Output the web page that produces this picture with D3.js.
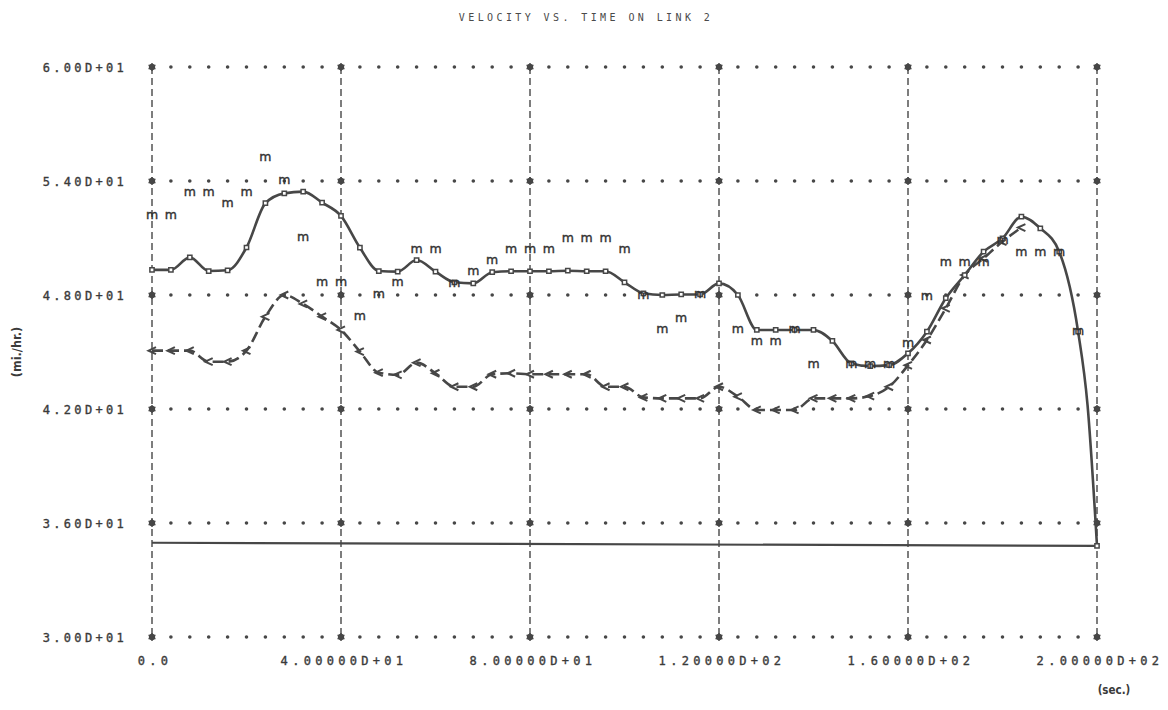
<!DOCTYPE html>
<html>
<head>
<meta charset="utf-8">
<script src="https://cdn.jsdelivr.net/npm/d3@7"></script>
<style>
  html, body { margin: 0; padding: 0; background: #fff; }
  svg { display: block; }
  text { font-family: "DejaVu Sans Mono", "Liberation Mono", monospace; fill: #3a3a3a; }
</style>
</head>
<body>
<svg id="chart" width="1168" height="710"></svg>
<script>
// Velocity on link 2 over a 200 s run
const chartTitle = "VELOCITY VS. TIME ON LINK 2";
const xTickValues = [0, 40, 80, 120, 160, 200];
const xTickLabels = ["0.0", "4.00000D+01", "8.00000D+01", "1.20000D+02", "1.60000D+02", "2.00000D+02"];
const yTickValues = [30, 36, 42, 48, 54, 60];
const yTickLabels = ["3.00D+01", "3.60D+01", "4.20D+01", "4.80D+01", "5.40D+01", "6.00D+01"];
const xAxisTitle = "(sec.)";
const yAxisTitle = "(mi./hr.)";

// Solid curve (model A)
const solidTime = [0, 4, 8, 12, 16, 20, 24, 28, 32, 36, 40, 44, 48, 52, 56, 60, 64, 68, 72, 76,
  80, 84, 88, 92, 96, 100, 104, 108, 112, 116, 120, 124, 128, 132, 136, 140, 144, 148, 152, 156,
  160, 164, 168, 172, 176, 180, 184, 188, 192, 196, 198, 200];
const solidSpeed = [49.32, 49.32, 49.98, 49.26, 49.3, 50.5, 52.83, 53.35, 53.44, 52.86, 52.16, 50.49,
  49.26, 49.23, 49.84, 49.23, 48.67, 48.61, 49.2, 49.25, 49.25, 49.25, 49.28, 49.25, 49.25, 48.67,
  48.09, 48.0, 48.03, 48.03, 48.61, 48.0, 46.16, 46.16, 46.16, 46.16, 45.58, 44.4, 44.26, 44.31,
  44.93, 46.07, 47.83, 49.05, 50.28, 50.98, 52.12, 51.51, 50.28, 46.07, 42.2, 34.8];

// Dashed curve (model B)
const dashedTime = [0, 4, 8, 12, 16, 20, 24, 28, 32, 36, 40, 44, 48, 52, 56, 60, 64, 68, 72, 76,
  80, 84, 88, 92, 96, 100, 104, 108, 112, 116, 120, 124, 128, 132, 136, 140, 144, 148, 152, 156,
  160, 164, 168, 172, 176, 180, 184];
const dashedSpeed = [45.07, 45.07, 45.07, 44.49, 44.49, 45.07, 46.86, 48.0, 47.53, 46.86, 46.16, 45.02,
  43.91, 43.8, 44.44, 43.88, 43.17, 43.17, 43.83, 43.88, 43.83, 43.83, 43.83, 43.83, 43.17, 43.17,
  42.61, 42.56, 42.56, 42.56, 43.17, 42.65, 41.95, 41.95, 41.95, 42.56, 42.56, 42.56, 42.68, 43.17,
  44.3, 45.63, 47.3, 49.05, 49.93, 50.81, 51.55];

// Measured speeds, printed as "m"
const measTime = [0, 4, 8, 12, 16, 20, 24, 28, 32, 36, 40, 44, 48, 52, 56, 60, 64, 68, 72, 76,
  80, 84, 88, 92, 96, 100, 104, 108, 112, 116, 124, 128, 132, 136, 140, 148, 152, 156,
  160, 164, 168, 172, 176, 180, 184, 188, 192, 196];
const measSpeed = [52.2, 52.2, 53.4, 53.4, 52.83, 53.4, 55.25, 54.02, 51.04, 48.65, 48.65, 46.86,
  48.04, 48.65, 50.37, 50.37, 48.61, 49.23, 49.81, 50.37, 50.37, 50.37, 50.95, 50.95, 50.95, 50.37,
  47.95, 46.2, 46.77, 48.0, 46.16, 45.54, 45.54, 46.2, 44.35, 44.35, 44.35, 44.35,
  45.46, 47.91, 49.7, 49.7, 49.7, 50.86, 50.25, 50.25, 50.25, 46.07];

// Closing base line drawn by the plotter
const baseTime = [0, 200];
const baseSpeed = [34.96, 34.8];

const ink = "#474747";
const svg = d3.select("#chart");

const x = d3.scaleLinear().domain([0, 200]).range([152, 1097]);
const y = d3.scaleLinear().domain([30, 60]).range([637, 67]);

// Title
svg.append("text")
  .attr("x", 586).attr("y", 21)
  .attr("text-anchor", "middle")
  .style("font-size", "10px")
  .style("letter-spacing", "3.4px")
  .style("fill", "#4a4a4a")
  .text(chartTitle);

// Vertical dashed grid lines (including both frame sides)
svg.append("g").selectAll("line")
  .data(xTickValues)
  .join("line")
  .attr("x1", d => x(d)).attr("x2", d => x(d))
  .attr("y1", y(60)).attr("y2", y(30))
  .attr("stroke", ink)
  .attr("stroke-width", 1.4)
  .attr("stroke-dasharray", "7 4");

// Horizontal dotted grid lines, one dot every 4 s
svg.append("g").selectAll("line")
  .data(yTickValues)
  .join("line")
  .attr("x1", x(0)).attr("x2", x(200) + 0.5)
  .attr("y1", d => y(d)).attr("y2", d => y(d))
  .attr("stroke", ink)
  .attr("stroke-width", 3.6)
  .attr("stroke-linecap", "round")
  .attr("stroke-dasharray", `0 ${x(4) - x(0)}`);

// Asterisks at grid intersections
const crossings = [];
xTickValues.forEach(tx => yTickValues.forEach(ty => crossings.push([tx, ty])));
const gStars = svg.append("g");
gStars.selectAll("circle")
  .data(crossings)
  .join("circle")
  .attr("cx", d => x(d[0])).attr("cy", d => y(d[1]))
  .attr("r", 3.2)
  .attr("fill", ink);
gStars.selectAll("path")
  .data(crossings)
  .join("path")
  .attr("transform", d => `translate(${x(d[0])},${y(d[1])})`)
  .attr("d", d3.symbol(d3.symbolAsterisk, 45))
  .attr("stroke", ink)
  .attr("stroke-width", 1.4)
  .attr("fill", "none");

// Tick labels
svg.append("g").selectAll("text")
  .data(yTickValues)
  .join("text")
  .attr("x", 127)
  .attr("y", d => y(d) + 4.5)
  .attr("text-anchor", "end")
  .style("font-size", "12px")
  .style("letter-spacing", "3.3px")
  .style("stroke", "#3a3a3a")
  .style("stroke-width", 0.35)
  .text((d, i) => yTickLabels[i]);

svg.append("g").selectAll("text")
  .data(xTickValues)
  .join("text")
  .attr("x", d => x(d) + 3)
  .attr("y", 665)
  .attr("text-anchor", "middle")
  .style("font-size", "12px")
  .style("letter-spacing", "4.3px")
  .style("stroke", "#3a3a3a")
  .style("stroke-width", 0.35)
  .text((d, i) => xTickLabels[i]);

// Axis titles
svg.append("text")
  .attr("transform", "translate(21,352) rotate(-90)")
  .attr("text-anchor", "middle")
  .style("font-size", "12.5px")
  .style("font-weight", "bold")
  .style("font-family", "'DejaVu Sans Condensed', 'DejaVu Sans', sans-serif")
  .text(yAxisTitle);

svg.append("text")
  .attr("x", 1114).attr("y", 694)
  .attr("text-anchor", "middle")
  .style("font-size", "11.5px")
  .style("font-weight", "bold")
  .style("font-family", "'DejaVu Sans Condensed', 'DejaVu Sans', sans-serif")
  .text(xAxisTitle);

const line = d3.line()
  .x(d => x(d[0]))
  .y(d => y(d[1]))
  .curve(d3.curveMonotoneX);

const solidPts = solidTime.map((t, i) => [t, solidSpeed[i]]);
const dashedPts = dashedTime.map((t, i) => [t, dashedSpeed[i]]);
const basePts = baseTime.map((t, i) => [t, baseSpeed[i]]);

// Base line
svg.append("path")
  .datum(basePts)
  .attr("d", d3.line().x(d => x(d[0])).y(d => y(d[1])))
  .attr("fill", "none")
  .attr("stroke", ink)
  .attr("stroke-width", 2.2);

// Dashed curve
svg.append("path")
  .datum(dashedPts)
  .attr("d", line)
  .attr("fill", "none")
  .attr("stroke", ink)
  .attr("stroke-width", 2.6)
  .attr("stroke-dasharray", "11 5");

svg.append("g").selectAll("path")
  .data(dashedPts)
  .join("path")
  .attr("transform", d => `translate(${x(d[0])},${y(d[1])})`)
  .attr("d", "M4,-3.5 L-3.5,0 L4,3.5")
  .attr("fill", "none")
  .attr("stroke", ink)
  .attr("stroke-width", 2);

// Solid curve
svg.append("path")
  .datum(solidPts)
  .attr("d", line)
  .attr("fill", "none")
  .attr("stroke", ink)
  .attr("stroke-width", 2.6);

svg.append("g").selectAll("path")
  .data(solidPts.filter(d => d[0] % 4 === 0))
  .join("path")
  .attr("transform", d => `translate(${x(d[0])},${y(d[1])})`)
  .attr("d", d3.symbol(d3.symbolSquare, 18))
  .attr("fill", "#fff")
  .attr("stroke", ink)
  .attr("stroke-width", 1.5);

// Measured points
svg.append("g").selectAll("text")
  .data(measTime.map((t, i) => [t, measSpeed[i]]))
  .join("text")
  .attr("x", d => x(d[0]))
  .attr("y", d => y(d[1]))
  .attr("dy", "0.27em")
  .attr("text-anchor", "middle")
  .style("font-family", "'DejaVu Sans', sans-serif")
  .style("font-size", "12.5px")
  .style("fill", "#333")
  .style("stroke", "#333")
  .style("stroke-width", 0.4)
  .text("m");
</script>
</body>
</html>
